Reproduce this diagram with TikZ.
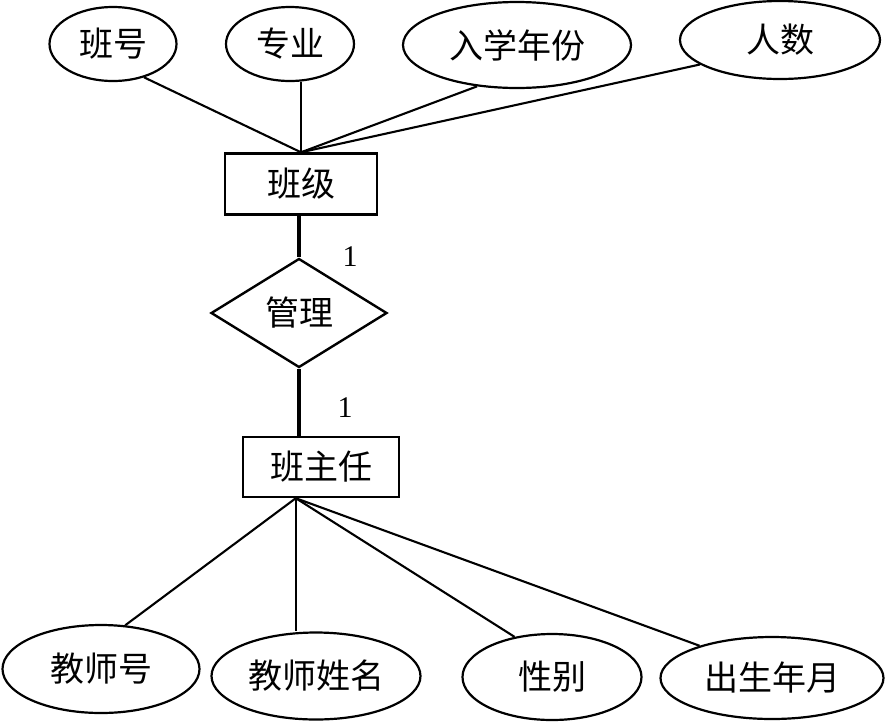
\documentclass[tikz,border=0pt]{standalone}
\usepackage{fontspec}
\setmainfont{Liberation Serif}
\newfontfamily\cjk{Noto Sans CJK SC}
\usetikzlibrary{shapes.geometric}

\begin{document}
\begin{tikzpicture}[x=1pt, y=-1pt,
  attr/.style={draw, ellipse, line width=2.2pt, inner sep=0pt, font=\cjk\fontsize{34}{36}\selectfont},
  ent/.style={draw, rectangle, line width=2.4pt, inner sep=0pt, font=\cjk\fontsize{34}{36}\selectfont},
  rel/.style={draw, diamond, aspect=1.6, line width=2.4pt, inner sep=0pt, font=\cjk\fontsize{34}{36}\selectfont},
  link/.style={line width=2.1pt},
  tie/.style={line width=4pt},
  card/.style={font=\fontsize{30}{32}\selectfont}
]
\useasboundingbox (0,0) rectangle (886,721);
% entities and relationship
\node[ent, minimum width=152pt, minimum height=61pt] (bj) at (301,184) {班级};
\node[rel, minimum width=176pt, minimum height=109pt] (gl) at (299,313) {管理};
\node[ent, minimum width=156pt, minimum height=60pt] (bzr) at (321,467) {班主任};
% attributes of 班级
\node[attr, minimum width=127pt, minimum height=74pt] (bh) at (113,44) {班号};
\node[attr, minimum width=128pt, minimum height=74pt] (zy) at (290,44) {专业};
\node[attr, minimum width=228pt, minimum height=86pt] (rxnf) at (517,45) {入学年份};
\node[attr, minimum width=200pt, minimum height=78pt] (rs) at (780,40) {人数};
% attributes of 班主任
\node[attr, minimum width=197pt, minimum height=88pt] (jsh) at (101,669) {教师号};
\node[attr, minimum width=209pt, minimum height=87pt] (jsxm) at (316,676) {教师姓名};
\node[attr, minimum width=179pt, minimum height=86pt] (xb) at (552,677) {性别};
\node[attr, minimum width=223pt, minimum height=82pt] (csny) at (772,678) {出生年月};
\coordinate (bzrb) at ([xshift=54pt]bzr.south west);
% connectors
\draw[link] (bj.north) -- (bh.-47);
\draw[link] (bj.north) -- (bj.north |- zy.south);
\draw[link] (bj.north) -- (rxnf.-134);
\draw[link] (bj.north) -- (rs.-163);
\draw[tie] (gl.north) -- (gl.north |- bj.south);
\draw[tie] (gl.south) -- (gl.south |- bzr.north);
\draw[link] (bzrb) -- (jsh.61);
\draw[link] (bzrb) -- (bzrb |- jsxm.north);
\draw[link] (bzrb) -- (xb.133);
\draw[link] (bzrb) -- (csny.156);
% cardinalities
\node[card] (c1) at (350,257) {1};
\node[card] (c2) at (345,408) {1};
\end{tikzpicture}
\end{document}
